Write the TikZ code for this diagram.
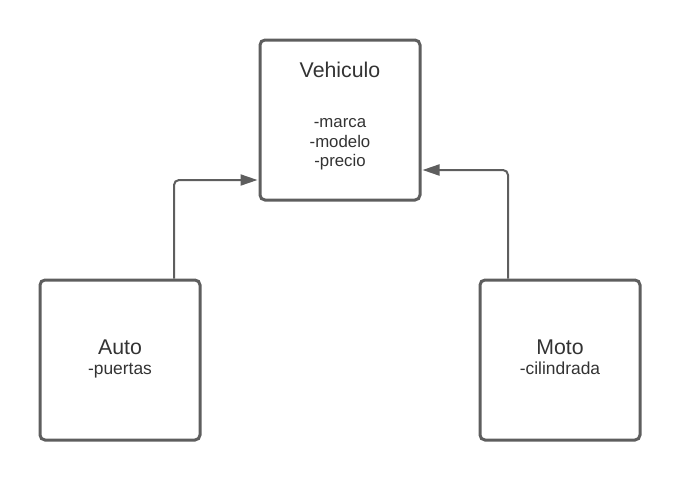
\documentclass[tikz,border=0pt]{standalone}
\usepackage{fontspec}
\setmainfont{Liberation Sans}
\usetikzlibrary{arrows.meta}
\definecolor{strokegray}{HTML}{5E5E5E}
\definecolor{textgray}{HTML}{333333}
\tikzset{
  box/.style={draw=strokegray, line width=3pt, rounded corners=5pt, minimum width=160pt, minimum height=160pt, inner sep=0pt, fill=white},
  title/.style={text=textgray, anchor=base, inner sep=0pt, font=\fontsize{21.3}{25}\selectfont},
  attr/.style={text=textgray, anchor=base, inner sep=0pt, font=\fontsize{16.8}{20}\selectfont},
  battr/.style={attr, font=\fontsize{17.4}{20}\selectfont},
  conn/.style={draw=strokegray, line width=2pt, rounded corners=5pt, -{Triangle[length=17pt,width=11pt]}}
}
\begin{document}
\begin{tikzpicture}[x=1pt,y=-1pt]
\useasboundingbox (0,0) rectangle (680,480);
\node[box] (veh) at (340,120) {};
\node[box] (auto) at (120,360) {};
\node[box] (moto) at (560,360) {};
\node[title] (vehT) at (340,77.3) {Vehiculo};
\node[attr] (vehA1) at (340,127.3) {-marca};
\node[attr] (vehA2) at (340,147) {-modelo};
\node[attr] (vehA3) at (340,166.7) {-precio};
\node[title] (autoT) at (120,354.3) {Auto};
\node[battr] (autoA) at (120,374.5) {-puertas};
\node[title] (motoT) at (560,354.3) {Moto};
\node[battr] (motoA) at (560,374.5) {-cilindrada};
\draw[conn, shorten >=1pt] ([xshift=54pt]auto.north) |- ([yshift=-60pt]veh.west);
\draw[conn, shorten >=1pt] ([xshift=-52pt]moto.north) |- ([yshift=-50pt]veh.east);
\end{tikzpicture}
\end{document}
